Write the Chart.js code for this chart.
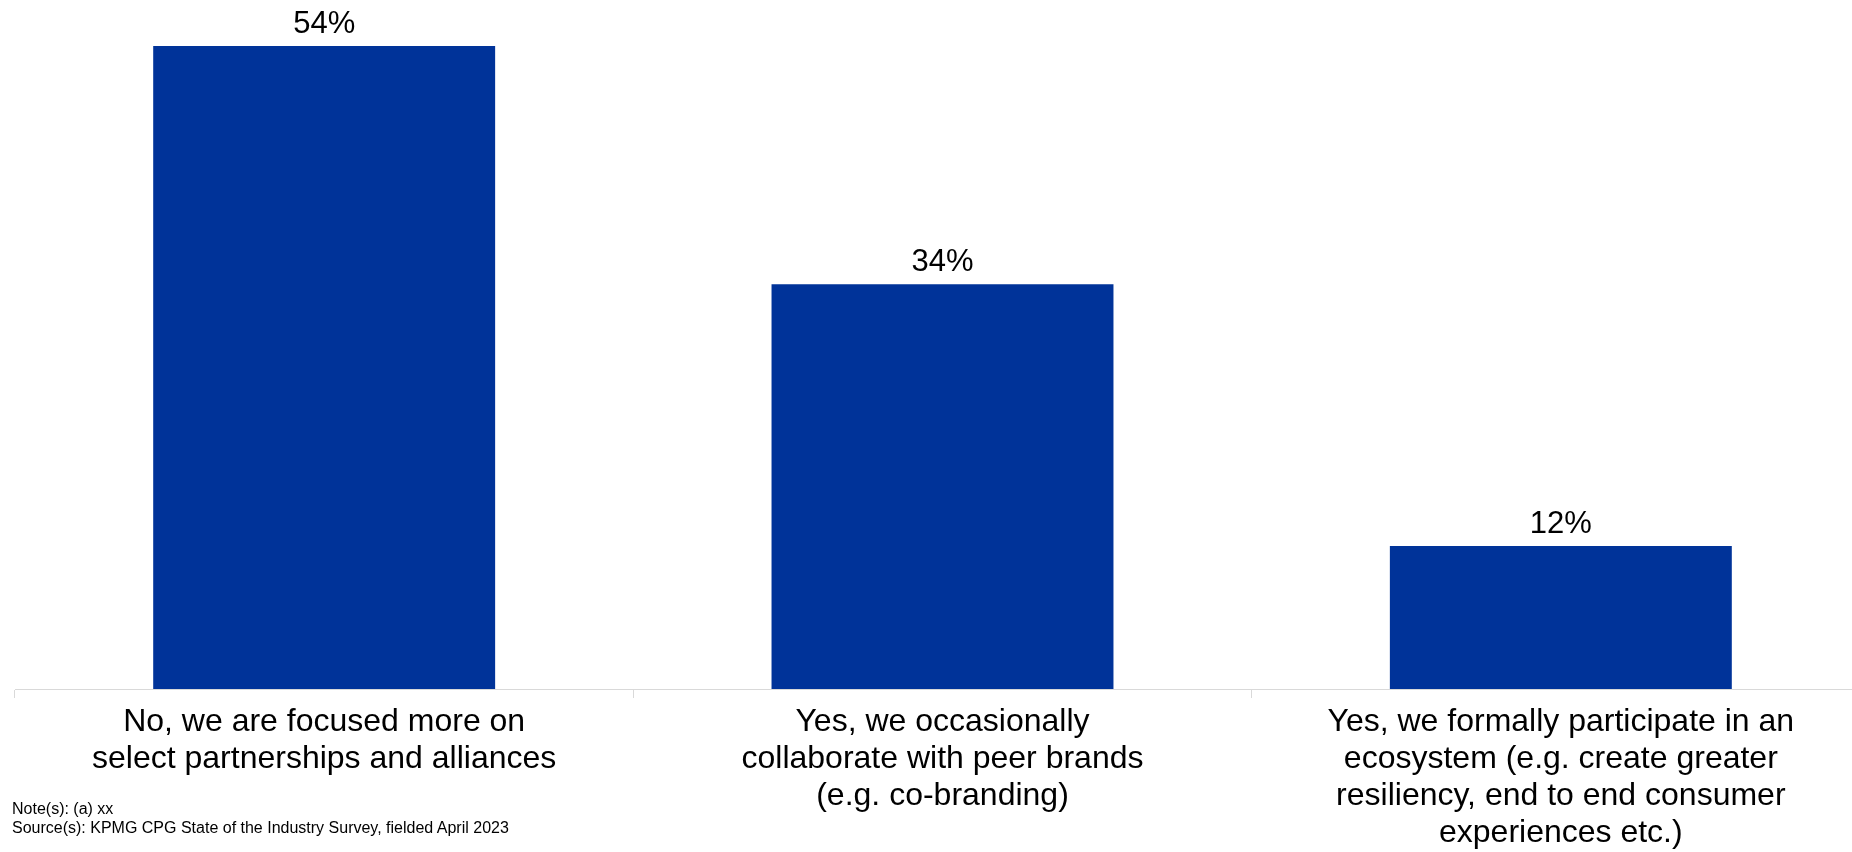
<!DOCTYPE HTML>
<html>
<head>
<script src="https://cdn.jsdelivr.net/npm/chart.js@4.4.1/dist/chart.umd.min.js"></script>
<style>
html, body {
  margin: 0;
  padding: 0;
  background: #ffffff;
  overflow: hidden;
  width: 1852px;
  height: 852px;
}
#wrap {
  position: absolute;
  left: 0;
  top: 0;
  width: 1870px;
  height: 852px;
}
#notes {
  position: absolute;
  left: 12px;
  top: 799px;
  font-family: "Liberation Sans", Arial, sans-serif;
  font-size: 16px;
  line-height: 19px;
  color: #000;
}
</style>
</head>
<body>

<div id="wrap"><canvas id="myChart"></canvas></div>
<div id="notes">Note(s): (a) xx<br>Source(s): KPMG CPG State of the Industry Survey, fielded April 2023</div>

<script>
// chart data
var categories = [
  ["No, we are focused more on", "select partnerships and alliances"],
  ["Yes, we occasionally", "collaborate with peer brands", "(e.g. co-branding)"],
  ["Yes, we formally participate in an", "ecosystem (e.g. create greater", "resiliency, end to end consumer", "experiences etc.)"]
];
var shares = [54, 34, 12];
var valueLabels = ["54%", "34%", "12%"];

// draws the % above each bar
var barValues = {
  id: 'barValues',
  afterDatasetsDraw: function(chart) {
    var c = chart.ctx;
    var meta = chart.getDatasetMeta(0);
    c.save();
    c.font = '31px "Liberation Sans", Arial, sans-serif';
    c.fillStyle = '#000000';
    c.textAlign = 'center';
    c.textBaseline = 'bottom';
    meta.data.forEach(function(bar, i) {
      c.fillText(valueLabels[i], bar.x, bar.y - 6);
    });
    c.restore();
  }
};

var ctx = document.getElementById("myChart").getContext("2d");
var myChart = new Chart(ctx, {
  type: 'bar',
  data: {
    labels: categories,
    datasets: [{
      data: shares,
      backgroundColor: '#003399',
      borderWidth: 0,
      barPercentage: 0.553,
      categoryPercentage: 1.0
    }]
  },
  options: {
    responsive: true,
    maintainAspectRatio: false,
    animation: false,
    layout: { padding: { top: 46, left: 15, right: 0, bottom: 0 } },
    plugins: {
      legend: { display: false },
      tooltip: { enabled: false }
    },
    scales: {
      y: { display: false, min: 0, max: 54 },
      x: {
        afterFit: function(s) { s.height = 163; },
        border: { display: true, color: '#d9d9d9', width: 1 },
        grid: {
          offset: true,
          drawOnChartArea: false,
          drawTicks: true,
          tickLength: 9,
          color: '#d9d9d9'
        },
        ticks: {
          color: '#000000',
          padding: 6,
          maxRotation: 0,
          autoSkip: false,
          font: { family: '"Liberation Sans", Arial, sans-serif', size: 32, lineHeight: 1.15 }
        }
      }
    }
  },
  plugins: [barValues]
});
</script>
</body>
</html>
